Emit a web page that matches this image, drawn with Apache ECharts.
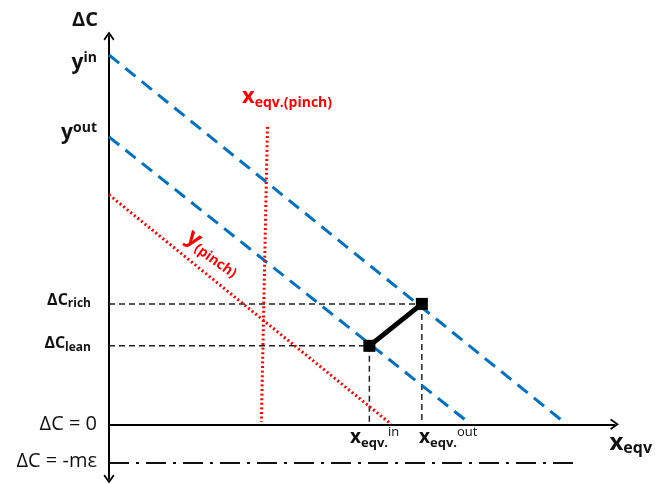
<!DOCTYPE html>
<html><head><meta charset="utf-8">
<script src="https://cdn.jsdelivr.net/npm/echarts@6/dist/echarts.min.js"></script>
<style>html,body{margin:0;padding:0;background:#fff}#c{width:655px;height:484px}</style>
</head><body><div id="c"></div>
<script>
// ---- data (schematic units) ----
const yInLine = [[0, 95.1], [89.8, 0]];
const yOutLine = [[0, 74.0], [71.0, 0]];
const yPinchLine = [[0, 59.1], [55.4, 0]];
const xPinchLine = [[31.1, 76.6], [29.9, 0.6]];
const leanPoint = [51.1, 20.2];
const richPoint = [61.4, 31.0];
const mEpsLine = [[0, -10.0], [91.8, -10.0]];
const yTickValues = [93.1, 75.0, 32.0, 20.7, 0, -9.5];
const yTickLabels = ['{b|y}{sup|in}', '{b|y}{sup|out}', '{m|ΔC}{sub|rich}', '{m|ΔC}{sub|lean}', '{r|ΔC = 0}', '{r|ΔC = -mε}'];
const xPointLabels = ['{x|x}{sub|eqv.}{sup|in}', '{x|x}{sub|eqv.}{sup|out}'];
const yAxisName = 'ΔC';
const xAxisName = '{x|x}{sub|eqv}';
const pinchXLabel = '{x|x}{sub|eqv.(pinch)}';
const pinchYLabel = '{y|y}{sub|(pinch)}';

const FONT = '"Open Sans", "DejaVu Sans", sans-serif';
const BLUE = '#0070C0';
const RED = '#FF0000';
const INK = '#111';
const arrow = 'path://M5,0L10,7L8.8,8.2L5,2.8L1.2,8.2L0,7Z';

const chart = echarts.init(document.getElementById('c'), null, {renderer: 'canvas'});

function helper(p) {
  return [[[0, p[1]], p], [p, [p[0], 0]]];
}
const dashedBlack = {type: [6, 4], width: 1.5, color: '#222'};
const helperSeries = [];
[richPoint, leanPoint].forEach(p => helper(p).forEach(seg => helperSeries.push({
  type: 'line', data: seg, symbol: 'none', lineStyle: dashedBlack, z: 1, silent: true
})));

const B = {fontFamily: FONT, fontWeight: 'bold', color: INK};
const richY = {
  b: Object.assign({}, B, {fontSize: 21, lineHeight: 24}),
  sup: Object.assign({}, B, {fontSize: 14, verticalAlign: 'top', lineHeight: 14}),
  m: Object.assign({}, B, {fontSize: 16, lineHeight: 20}),
  sub: Object.assign({}, B, {fontSize: 12, verticalAlign: 'bottom', lineHeight: 12, padding: [0, 6, 0, 0]}),
  r: {fontFamily: FONT, fontSize: 20, color: INK}
};

chart.setOption({
  animation: false,
  backgroundColor: '#fff',
  grid: {left: 109, top: 36, width: 507, height: 443, containLabel: false},
  xAxis: {
    type: 'value', min: 0, max: 99.2,
    axisLine: {onZero: true, symbol: ['none', arrow], symbolSize: [12, 9], lineStyle: {color: '#000', width: 2}},
    axisTick: {show: false}, axisLabel: {show: false}, splitLine: {show: false},
    name: xAxisName, nameLocation: 'end', nameGap: -5,
    nameTextStyle: {align: 'left', verticalAlign: 'top', padding: [6, 0, 0, 0],
      rich: {
        x: Object.assign({}, B, {fontSize: 24, lineHeight: 26}),
        sub: Object.assign({}, B, {fontSize: 16, verticalAlign: 'bottom', lineHeight: 16})
      }}
  },
  yAxis: {
    type: 'value', min: -14.1, max: 100,
    axisLine: {onZero: true, symbol: [arrow, arrow], symbolSize: [12, 9], lineStyle: {color: '#000', width: 2}},
    axisTick: {show: false}, splitLine: {show: false},
    axisLabel: {
      customValues: yTickValues, margin: 12, showMinLabel: true, showMaxLabel: true,
      formatter: v => yTickLabels[yTickValues.indexOf(v)] || '',
      rich: richY
    },
    name: yAxisName, nameLocation: 'end', nameGap: 6,
    nameTextStyle: {fontFamily: FONT, fontSize: 20, fontWeight: 'bold', color: INK, align: 'right', verticalAlign: 'bottom', padding: [0, 11, 0, 0]}
  },
  series: [
    {type: 'line', data: yInLine, symbol: 'none', lineStyle: {color: BLUE, width: 3, type: [13, 8]}, z: 2},
    {type: 'line', data: yOutLine, symbol: 'none', lineStyle: {color: BLUE, width: 3, type: [13, 8]}, z: 2},
    {type: 'line', data: yPinchLine, symbol: 'none', lineStyle: {color: RED, width: 3, type: [2, 2.6]}, z: 2},
    {type: 'line', data: xPinchLine, symbol: 'none', lineStyle: {color: RED, width: 3, type: [2, 2.6]}, z: 2},
    {type: 'line', data: mEpsLine, symbol: 'none', lineStyle: {color: INK, width: 2, type: [20, 7, 3, 7]}, z: 2},
    ...helperSeries,
    {type: 'line', data: [leanPoint, richPoint], symbol: 'rect', symbolSize: 12, showAllSymbol: true,
      itemStyle: {color: '#000'}, lineStyle: {color: '#000', width: 5}, z: 5}
  ],
  graphic: [
    {type: 'text', x: 242, y: 84, z: 10, style: {text: pinchXLabel, fill: RED, align: 'left', verticalAlign: 'top',
      rich: {
        x: {fontFamily: FONT, fontSize: 22, fontWeight: 'bold', fill: RED, lineHeight: 26},
        sub: {fontFamily: FONT, fontSize: 14, fontWeight: 'bold', fill: RED, verticalAlign: 'bottom', lineHeight: 14}
      }}},
    {type: 'text', x: 196, y: 224, rotation: -0.62, z: 10, style: {text: pinchYLabel, fill: RED, align: 'left', verticalAlign: 'top',
      rich: {
        y: {fontFamily: FONT, fontSize: 23, fontWeight: 'bold', fill: RED, lineHeight: 26},
        sub: {fontFamily: FONT, fontSize: 14, fontWeight: 'bold', fill: RED, verticalAlign: 'bottom', lineHeight: 15}
      }}},
    {type: 'text', x: 350, y: 426, z: 10, style: {text: xPointLabels[0], fill: INK, align: 'left', verticalAlign: 'top',
      rich: {
        x: {fontFamily: FONT, fontSize: 19, fontWeight: 'bold', fill: INK, lineHeight: 24},
        sub: {fontFamily: FONT, fontSize: 13, fontWeight: 'bold', fill: INK, verticalAlign: 'bottom', lineHeight: 13},
        sup: {fontFamily: FONT, fontSize: 13, fill: INK, verticalAlign: 'top', lineHeight: 12}
      }}},
    {type: 'text', x: 419, y: 426, z: 10, style: {text: xPointLabels[1], fill: INK, align: 'left', verticalAlign: 'top',
      rich: {
        x: {fontFamily: FONT, fontSize: 19, fontWeight: 'bold', fill: INK, lineHeight: 24},
        sub: {fontFamily: FONT, fontSize: 13, fontWeight: 'bold', fill: INK, verticalAlign: 'bottom', lineHeight: 13},
        sup: {fontFamily: FONT, fontSize: 13, fill: INK, verticalAlign: 'top', lineHeight: 12}
      }}}
  ]
});
</script>
</body></html>
